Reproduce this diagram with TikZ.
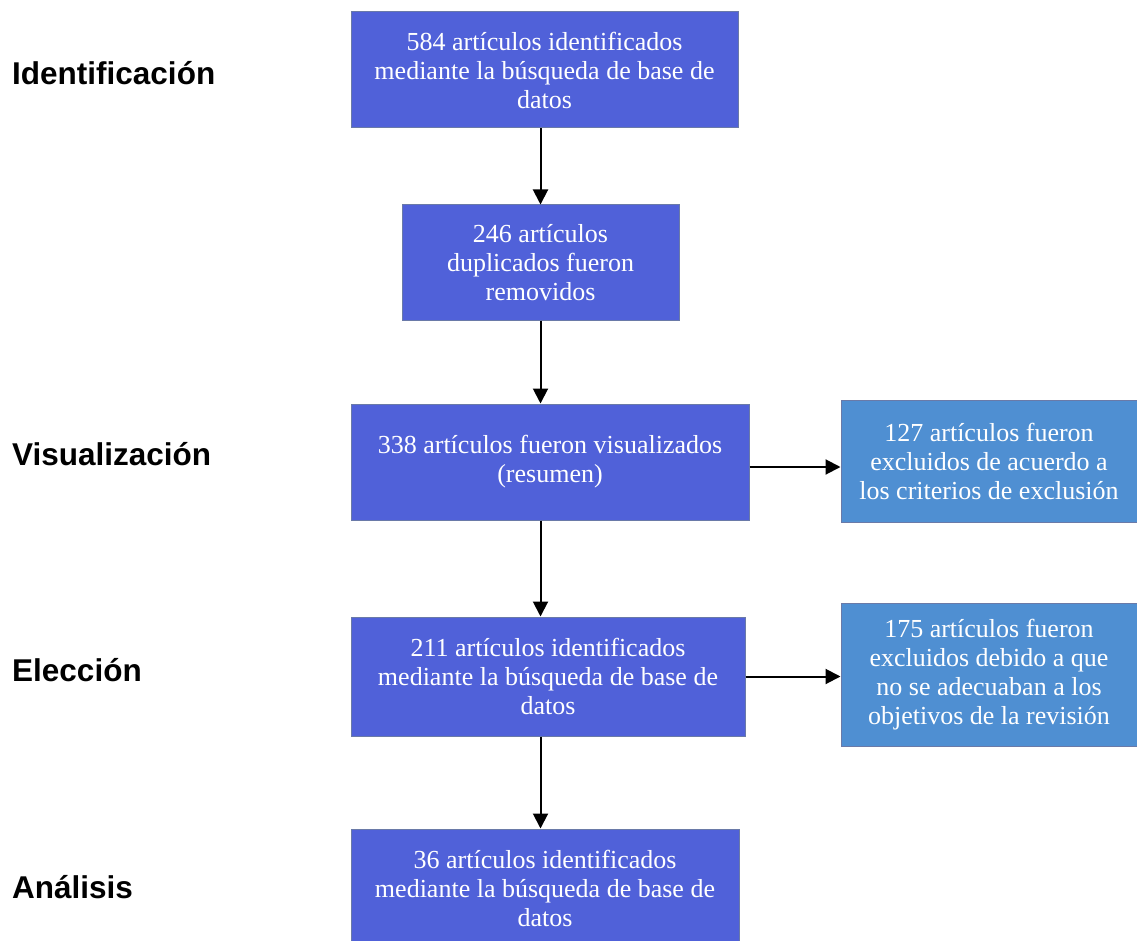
\documentclass[tikz,border=0pt]{standalone}
\usepackage{fontspec}
\setmainfont{Liberation Serif}
\newfontfamily\stagefont{Liberation Sans}
\usetikzlibrary{arrows.meta}
\definecolor{stepblue}{HTML}{5061D9}
\definecolor{exclblue}{HTML}{4F8FD2}
\definecolor{boxedge}{HTML}{6A7AA8}

\tikzset{
  stepbox/.style={rectangle, draw=boxedge, line width=1pt, fill=stepblue,
    text=white, align=center, inner sep=0pt,
    font=\fontsize{26}{29}\selectfont},
  exclbox/.style={stepbox, fill=exclblue},
  stage/.style={anchor=base west, inner sep=0pt,
    font=\stagefont\bfseries\fontsize{31.5}{34}\selectfont},
  flow/.style={line width=2pt, -{Triangle[length=15pt,width=15pt]}}
}

\begin{document}
\begin{tikzpicture}[x=1pt, y=-1pt]
  \useasboundingbox (0,0) rectangle (1137,941);

  % stages on the left
  \node[stage] (sident) at (12,85) {Identificación};
  \node[stage] (svis)   at (12,465) {Visualización};
  \node[stage] (selec)  at (12,681) {Elección};
  \node[stage] (sanal)  at (12,898) {Análisis};

  % main flow
  \node[stepbox, minimum width=387pt, minimum height=116pt] (ident) at (544.5,70)
    {584 artículos identificados\\mediante la búsqueda de base de\\datos};
  \node[stepbox, minimum width=277pt, minimum height=115pt] (dup) at (540.5,262.5)
    {246 artículos\\duplicados fueron\\removidos};
  \node[stepbox, minimum width=398pt, minimum height=116pt] (vis) at (550,462)
    {338 artículos fueron visualizados\\(resumen)};
  \node[stepbox, minimum width=394pt, minimum height=119pt] (elec) at (548,676.5)
    {211 artículos identificados\\mediante la búsqueda de base de\\datos};
  % bottom box runs past the page edge
  \node[stepbox, minimum width=388pt, minimum height=118pt] (anal) at (545,888)
    {36 artículos identificados\\mediante la búsqueda de base de\\datos};

  % exclusions
  \node[exclbox, minimum width=296pt, minimum height=122pt] (excl1) at (989,461)
    {127 artículos fueron\\excluidos de acuerdo a\\los criterios de exclusión};
  \node[exclbox, minimum width=296pt, minimum height=143pt] (excl2) at (989,674.5)
    {175 artículos fueron\\excluidos debido a que\\no se adecuaban a los\\objetivos de la revisión};

  \draw[flow] (ident.south -| dup.north) -- (dup.north);
  \draw[flow] (dup.south) -- (dup.south |- vis.north);
  \draw[flow] (vis.south -| dup.south) -- (dup.south |- elec.north);
  \draw[flow] (elec.south -| dup.south) -- (dup.south |- anal.north);
  \draw[flow] ([yshift=-5pt]vis.east) -- ([yshift=-5pt]vis.east -| excl1.west);
  \draw[flow] (elec.east) -- (elec.east -| excl2.west);
\end{tikzpicture}
\end{document}
